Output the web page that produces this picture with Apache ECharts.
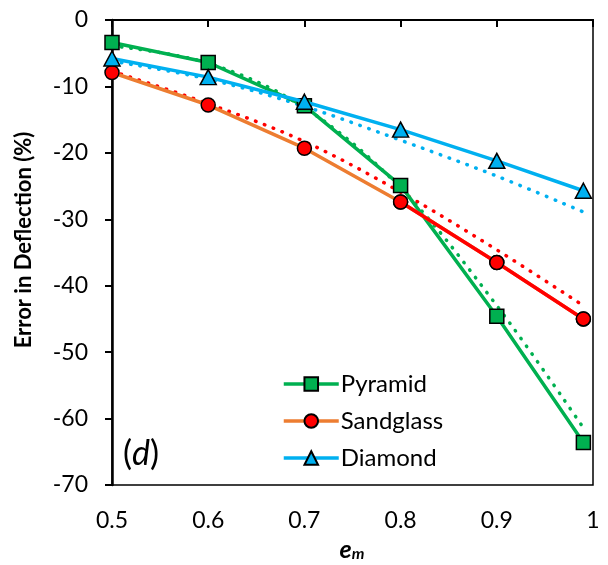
<!DOCTYPE html>
<html>
<head>
<meta charset="utf-8">
<script src="https://cdn.jsdelivr.net/npm/echarts@6/dist/echarts.min.js"></script>
<style>
  html, body { margin: 0; padding: 0; background: #fff; }
  #chart { width: 608px; height: 565px; }
</style>
</head>
<body>
<div id="chart"></div>
<script>
  // values
  const xValues = [0.5, 0.6, 0.7, 0.8, 0.9, 0.99];
  const pyramid = [-3.4, -6.4, -12.9, -24.9, -44.6, -63.6];
  const sandglass = [-7.9, -12.8, -19.3, -27.4, -36.5, -45.0];
  const diamond = [-5.8, -8.6, -12.3, -16.5, -21.2, -25.7];
  // dotted trend lines
  const pyramidTrend = [-3.9, -6.5, -13.2, -25.3, -43.0, -61.4];
  const sandglassTrend = [-7.7, -12.6, -18.3, -25.9, -34.6, -43.0];
  const diamondTrend = [-6.2, -8.9, -13.0, -18.1, -23.5, -28.9];

  const FONT = 'Lato';
  const pairs = (ys) => xValues.map((x, i) => [x, ys[i]]);

  const chart = echarts.init(document.getElementById('chart'));

  const trend = (data, color) => ({
    type: 'line',
    data: pairs(data),
    smooth: 0.35,
    symbol: 'none',
    silent: true,
    z: 1,
    lineStyle: { color: color, width: 3.5, type: [0.5, 9], cap: 'round' }
  });

  chart.setOption({
    animation: false,
    grid: { left: 112, right: 15, top: 20, bottom: 80, show: true, borderColor: '#000', borderWidth: 1.5 },
    xAxis: [
      {
        type: 'value', min: 0.5, max: 1, interval: 0.1, position: 'bottom',
        axisLine: { show: true, lineStyle: { color: '#000', width: 2 } },
        axisTick: { show: false },
        splitLine: { show: false },
        axisLabel: { margin: 24, fontFamily: FONT, fontSize: 23, color: '#000' }
      },
      {
        type: 'value', min: 0.5, max: 1, interval: 0.1, position: 'top',
        axisLine: { show: true, lineStyle: { color: '#000', width: 2 } },
        axisTick: { show: true, inside: true, length: 7, lineStyle: { color: '#000', width: 2 } },
        axisLabel: { show: false },
        splitLine: { show: false }
      }
    ],
    yAxis: {
      type: 'value', min: -70, max: 0, interval: 10,
      axisLine: { show: true, lineStyle: { color: '#000', width: 2.5 } },
      axisTick: { show: true, length: 7, lineStyle: { color: '#000', width: 2 } },
      splitLine: { show: false },
      axisLabel: { margin: 24, fontFamily: FONT, fontSize: 23, color: '#000' }
    },
    legend: {
      data: ['Pyramid', 'Sandglass', 'Diamond'],
      orient: 'vertical',
      left: 277, top: 367,
      itemWidth: 55, itemHeight: 17, itemGap: 13,
      lineStyle: { width: 3.5 },
      textStyle: { fontFamily: FONT, fontSize: 24, color: '#000', padding: [0, 0, 0, -3] }
    },
    graphic: [
      {
        type: 'text', x: 24, y: 240, rotation: Math.PI / 2,
        style: { text: 'Error in Deflection (%)', font: 'bold 22px ' + FONT, fill: '#000', align: 'center', verticalAlign: 'middle' }
      },
      {
        type: 'text', x: 352, y: 550,
        style: {
          text: '{e|e}{m|m}', align: 'center', verticalAlign: 'middle',
          rich: {
            e: { font: 'bold italic 25px ' + FONT, fill: '#000' },
            m: { font: 'bold italic 16px ' + FONT, fill: '#000', padding: [8, 0, 0, 0] }
          }
        }
      },
      {
        type: 'text', x: 123, y: 454,
        style: {
          text: '{p|(}{d|d}{p|)}', verticalAlign: 'middle',
          rich: {
            p: { font: '34px ' + FONT, fill: '#000' },
            d: { font: 'italic 34px ' + FONT, fill: '#000' }
          }
        }
      }
    ],
    series: [
      trend(pyramidTrend, '#00B050'),
      trend(sandglassTrend, '#FF0000'),
      trend(diamondTrend, '#00B0F0'),
      {
        name: 'Pyramid', type: 'line', data: pairs(pyramid), z: 3,
        symbol: 'rect', symbolSize: 14,
        lineStyle: { color: '#00B050', width: 3.5 },
        itemStyle: { color: '#00B050', borderColor: '#000', borderWidth: 1.5 }
      },
      {
        name: 'Sandglass', type: 'line', data: pairs(sandglass), z: 4,
        symbol: 'circle', symbolSize: 14,
        lineStyle: { color: '#ED7D31', width: 3.5 },
        itemStyle: { color: '#FF0000', borderColor: '#000', borderWidth: 1.5 }
      },
      {
        // last part of the Sandglass curve is drawn in red
        name: 'SandglassTail', type: 'line', data: pairs(sandglass).slice(3), z: 5,
        symbol: 'circle', symbolSize: 14,
        lineStyle: { color: '#FF0000', width: 3.5 },
        itemStyle: { color: '#FF0000', borderColor: '#000', borderWidth: 1.5 }
      },
      {
        name: 'Diamond', type: 'line', data: pairs(diamond), z: 6,
        symbol: 'triangle', symbolSize: [16, 15],
        lineStyle: { color: '#00B0F0', width: 3.5 },
        itemStyle: { color: '#00B0F0', borderColor: '#000', borderWidth: 1.5 }
      }
    ]
  });
</script>
</body>
</html>
